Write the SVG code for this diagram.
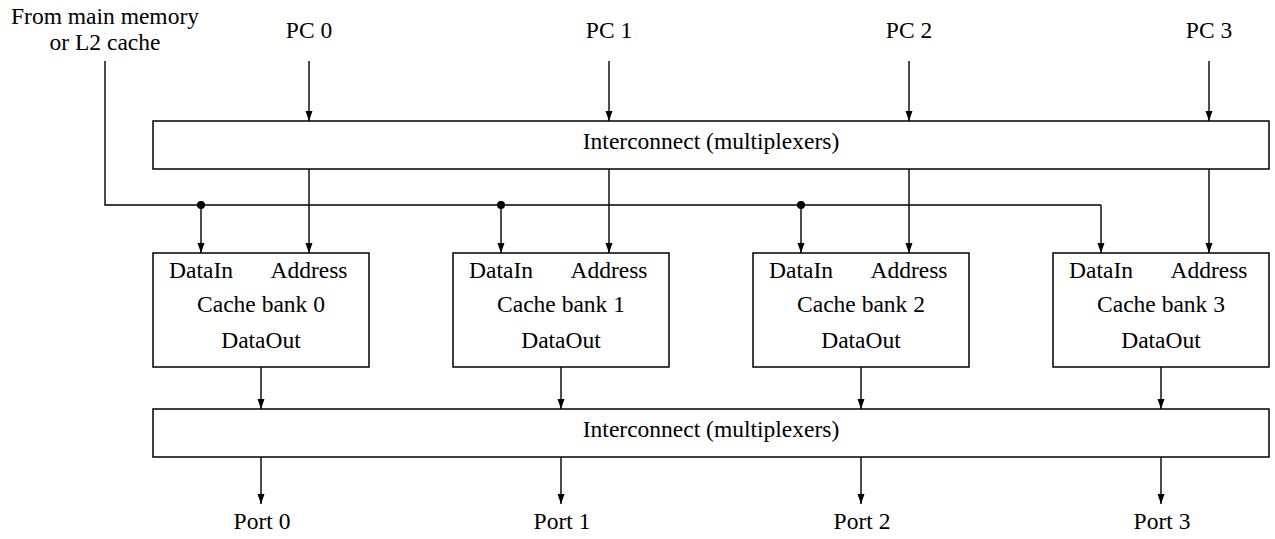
<svg xmlns="http://www.w3.org/2000/svg" width="1275" height="539" viewBox="0 0 1275 539">
<style>
.box{fill:#fff;stroke:#000;stroke-width:1.5}
.w{fill:none;stroke:#000;stroke-width:1.4}
.a{fill:none;stroke:#000;stroke-width:1.4;marker-end:url(#ah)}
</style>
<defs>
<marker id="ah" markerUnits="userSpaceOnUse" markerWidth="11" markerHeight="8" refX="10" refY="3.5" orient="auto">
<path d="M0,0 L10,3.5 L0,7 Z" fill="#000"/>
</marker>
</defs>
<rect width="1275" height="539" fill="#fff"/>
<g font-family="Liberation Serif, Times New Roman, serif" font-size="23.5" text-anchor="middle" fill="#000">
<g id="labels">
<text x="105" y="24">From main memory</text>
<text x="105" y="50">or L2 cache</text>
<text x="309" y="38">PC 0</text>
<text x="609" y="38">PC 1</text>
<text x="909" y="38">PC 2</text>
<text x="1209" y="38">PC 3</text>
<text x="262" y="529">Port 0</text>
<text x="562" y="529">Port 1</text>
<text x="862" y="529">Port 2</text>
<text x="1162" y="529">Port 3</text>
</g>
<g id="interconnect-top">
<rect class="box" x="153" y="121" width="1116" height="48"/>
<text x="711" y="149">Interconnect (multiplexers)</text>
</g>
<g id="interconnect-bottom">
<rect class="box" x="153" y="409" width="1116" height="48"/>
<text x="711" y="437">Interconnect (multiplexers)</text>
</g>
<g id="bank0">
<rect class="box" x="153" y="253" width="216" height="114"/>
<text x="201" y="278">DataIn</text>
<text x="309" y="278">Address</text>
<text x="261" y="312">Cache bank 0</text>
<text x="261" y="348">DataOut</text>
</g>
<g id="bank1">
<rect class="box" x="453" y="253" width="216" height="114"/>
<text x="501" y="278">DataIn</text>
<text x="609" y="278">Address</text>
<text x="561" y="312">Cache bank 1</text>
<text x="561" y="348">DataOut</text>
</g>
<g id="bank2">
<rect class="box" x="753" y="253" width="216" height="114"/>
<text x="801" y="278">DataIn</text>
<text x="909" y="278">Address</text>
<text x="861" y="312">Cache bank 2</text>
<text x="861" y="348">DataOut</text>
</g>
<g id="bank3">
<rect class="box" x="1053" y="253" width="216" height="114"/>
<text x="1101" y="278">DataIn</text>
<text x="1209" y="278">Address</text>
<text x="1161" y="312">Cache bank 3</text>
<text x="1161" y="348">DataOut</text>
</g>
</g>
<g id="connectors">
<path class="a" d="M309,61 V121"/>
<path class="a" d="M609,61 V121"/>
<path class="a" d="M909,61 V121"/>
<path class="a" d="M1209,61 V121"/>
<path class="a" d="M309,169 V253"/>
<path class="a" d="M609,169 V253"/>
<path class="a" d="M909,169 V253"/>
<path class="a" d="M1209,169 V253"/>
<path class="w" d="M105,61 V205 H1101"/>
<path class="a" d="M1101,205 V253"/>
<path class="a" d="M201,205 V253"/>
<path class="a" d="M501,205 V253"/>
<path class="a" d="M801,205 V253"/>
<circle cx="201" cy="205" r="4" fill="#000"/>
<circle cx="501" cy="205" r="4" fill="#000"/>
<circle cx="801" cy="205" r="4" fill="#000"/>
<path class="a" d="M261,367 V409"/>
<path class="a" d="M561,367 V409"/>
<path class="a" d="M861,367 V409"/>
<path class="a" d="M1161,367 V409"/>
<path class="a" d="M261,457 V504"/>
<path class="a" d="M561,457 V504"/>
<path class="a" d="M861,457 V504"/>
<path class="a" d="M1161,457 V504"/>
</g>
</svg>
